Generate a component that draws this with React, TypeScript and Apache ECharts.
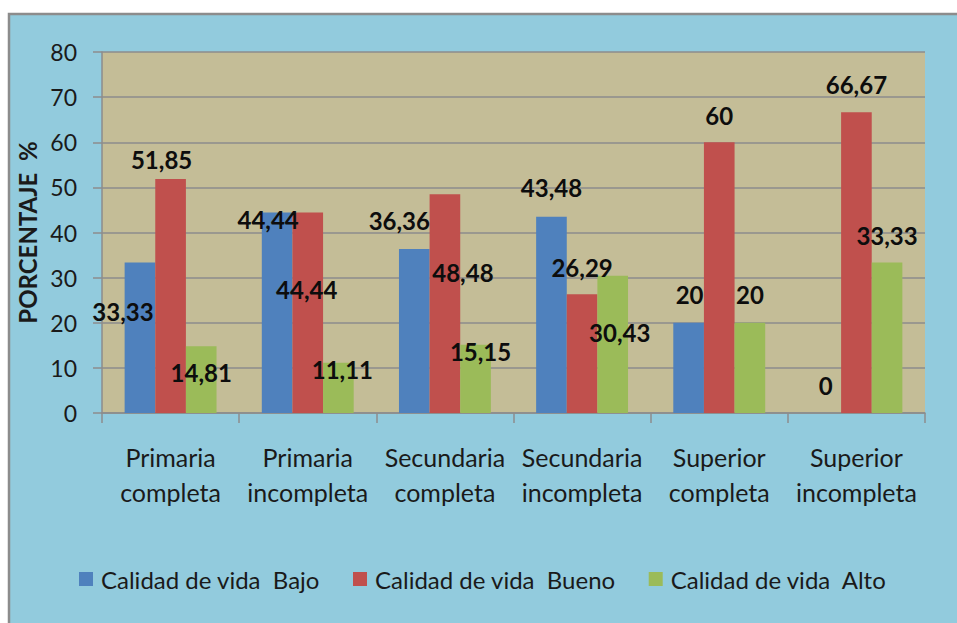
import React, { useEffect, useRef } from "react";
import * as echarts from "echarts";

const categories = [
  "Primaria\ncompleta",
  "Primaria\nincompleta",
  "Secundaria\ncompleta",
  "Secundaria\nincompleta",
  "Superior\ncompleta",
  "Superior\nincompleta",
];
const seriesNames = [
  "Calidad de vida  Bajo",
  "Calidad de vida  Bueno",
  "Calidad de vida  Alto",
];
const bajo = [33.33, 44.44, 36.36, 43.48, 20, 0];
const bueno = [51.85, 44.44, 48.48, 26.29, 60, 66.67];
const alto = [14.81, 11.11, 15.15, 30.43, 20, 33.33];
const yTicks = { min: 0, max: 80, interval: 10 };

// label placement (layout only), offsets from the top of each bar
const labelOffsets = [
  [[-17, 61], [-9, 19], [-15, -16], [0, -17], [1, -16], [0, -16]],
  [[-9, -8], [-1, 89], [18, 90], [0, -15], [0, -15], [0, -16]],
  [[0, 38], [4, 19], [5, 19], [7, 69], [0, -16], [0, -15]],
];

const colors = ["#4F81BD", "#C0504D", "#9BBB59"];
const FONT = "Lato";

const fmt = (v: number) => String(v).replace(".", ",");

export default function App() {
  const ref = useRef<HTMLDivElement>(null);
  useEffect(() => {
    const chart = echarts.init(ref.current!, undefined, { renderer: "svg" });
    const values = [bajo, bueno, alto];
    chart.setOption({
      animation: false,
      backgroundColor: "#ffffff",
      graphic: [
        {
          type: "rect",
          z: -10,
          shape: { x: 9, y: 14, width: 960, height: 620 },
          style: { fill: "#92CBDD", stroke: "#8C8C8C", lineWidth: 2.5 },
        },
      ],
      grid: {
        show: true,
        left: 102,
        top: 52,
        right: 32,
        bottom: 210,
        backgroundColor: "#C4BD97",
        borderWidth: 0,
        containLabel: false,
      },
      legend: {
        left: 74,
        top: 562,
        icon: "rect",
        itemWidth: 14,
        itemHeight: 14,
        itemGap: 33,
        textStyle: {
          fontFamily: FONT,
          fontSize: 24,
          color: "#1a1a1a",
          padding: [0, 0, 0, 3],
        },
        data: seriesNames,
      },
      xAxis: {
        type: "category",
        data: categories,
        axisLine: { show: true, lineStyle: { color: "#8C8C8C", width: 1.5 } },
        axisTick: { show: true, length: 10, lineStyle: { color: "#8C8C8C", width: 1.5 } },
        axisLabel: {
          fontFamily: FONT,
          fontSize: 25,
          lineHeight: 35,
          color: "#1a1a1a",
          margin: 26,
          interval: 0,
        },
      },
      yAxis: {
        type: "value",
        min: yTicks.min,
        max: yTicks.max,
        interval: yTicks.interval,
        name: "PORCENTAJE  %",
        nameLocation: "middle",
        nameRotate: 90,
        nameGap: 60,
        nameTextStyle: {
          fontFamily: FONT,
          fontSize: 24,
          fontWeight: "bold",
          color: "#1a1a1a",
        },
        axisLine: { show: true, lineStyle: { color: "#8C8C8C", width: 1.5 } },
        axisTick: { show: true, length: 9, lineStyle: { color: "#8C8C8C", width: 1.5 } },
        splitLine: { show: true, lineStyle: { color: "#8C8C8C", width: 1.5 } },
        axisLabel: {
          fontFamily: FONT,
          fontSize: 23,
          color: "#1a1a1a",
          margin: 25,
        },
      },
      series: seriesNames.map((name, si) => ({
        name,
        type: "bar",
        barGap: "0%",
        barCategoryGap: "33%",
        itemStyle: { color: colors[si] },
        data: values[si].map((v, i) => ({
          value: v,
          label: {
            show: true,
            position: "top",
            distance: 0,
            offset: labelOffsets[si][i],
            formatter: () => fmt(v),
            fontFamily: FONT,
            fontSize: 24,
            lineHeight: 24,
            fontWeight: "bold",
            color: "#0d0d0d",
          },
        })),
      })),
    });
    return () => chart.dispose();
  }, []);
  return (
    <div
      ref={ref}
      style={{ position: "fixed", left: 0, top: 0, width: 957, height: 623 }}
    />
  );
}
